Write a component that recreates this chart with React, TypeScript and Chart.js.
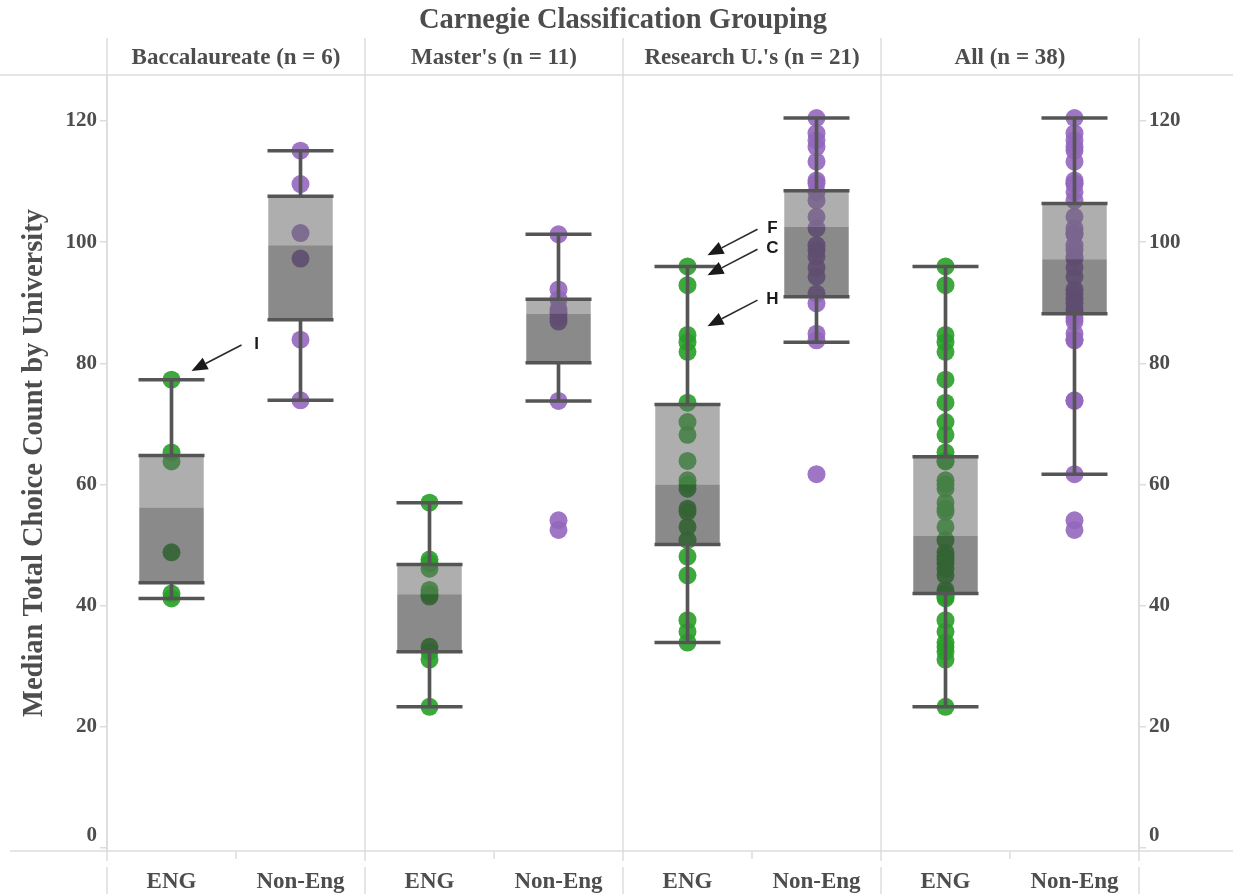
import React, { useEffect, useRef } from 'react';
import { Chart, registerables } from 'chart.js';

Chart.register(...registerables);

// ---------- data ----------
const chartTitle = 'Carnegie Classification Grouping';
const yAxisTitle = 'Median Total Choice Count by University';
const groupLabels = ['Baccalaureate (n = 6)', "Master's (n = 11)", "Research U.'s (n = 21)", 'All (n = 38)'];
const subgroupLabels = ['ENG', 'Non-Eng'];
const yTicks = [0, 20, 40, 60, 80, 100, 120];
const yMin = -0.5;
const yMax = 127.6;

const bacEng = [77.3, 65.3, 63.8, 48.8, 42.0, 41.2];
const bacNon = [115.1, 109.6, 101.5, 97.3, 83.9, 73.9];
const masEng = [57.0, 47.6, 47.0, 46.1, 42.6, 41.9, 41.5, 33.2, 32.4, 31.1, 23.3];
const masNon = [101.3, 92.2, 90.6, 89.0, 88.5, 88.2, 87.5, 86.9, 73.8, 54.1, 52.5];
const resEng = [96.0, 92.9, 84.7, 83.5, 81.9, 73.5, 70.3, 68.2, 63.9, 60.7, 60.0, 59.3, 56.0, 55.5, 53.0, 50.8, 48.1, 45.0, 37.6, 35.7, 33.9];
const resNon = [120.5, 118.0, 116.8, 115.7, 113.3, 110.2, 109.7, 108.3, 106.9, 104.2, 102.3, 99.5, 98.7, 97.6, 95.8, 94.3, 91.5, 89.9, 84.9, 83.8, 61.7];
const allEng = [...bacEng, ...masEng, ...resEng];
const allNon = [...bacNon, ...masNon, ...resNon];

// box statistics per category (Bacc ENG, Bacc Non, Master ENG, Master Non, Research ENG, Research Non, All ENG, All Non)
const whiskerHigh = [77.3, 115.1, 57.0, 101.3, 96.0, 120.5, 96.0, 120.5];
const q3 = [64.8, 107.6, 46.8, 90.6, 73.2, 108.5, 64.6, 106.4];
const median = [56.2, 99.5, 41.9, 88.2, 60.0, 102.5, 51.5, 97.2];
const q1 = [43.8, 87.2, 32.4, 80.1, 50.1, 91.0, 42.0, 88.2];
const whiskerLow = [41.2, 73.9, 23.3, 73.8, 33.9, 83.5, 23.3, 61.7];

const annotationTexts = ['I', 'F', 'C', 'H'];
const annotationGroups = [0, 2, 2, 2];
const annotationValues = [83.2, 102.3, 99.0, 90.6];

// ---------- derived ----------
const categories = groupLabels.flatMap((g) => subgroupLabels.map((s) => `${g}|${s}`));
const pointsByCategory = [bacEng, bacNon, masEng, masNon, resEng, resNon, allEng, allNon];

const TEXT = '#4d4d4d';
const GRID = '#dcdcdc';
const SERIF = '"Liberation Serif", "Times New Roman", serif';
const SANS = '"Liberation Sans", Arial, sans-serif';

Chart.defaults.font.family = SERIF;

const pointsFor = (sub: number) =>
  categories.flatMap((c, i) => (i % 2 === sub ? pointsByCategory[i].map((v) => ({ x: c, y: v })) : []));

const edgePoints = categories.flatMap((c, i) => [
  { x: c, y: whiskerLow[i] },
  { x: c, y: q1[i] },
  { x: c, y: q3[i] },
  { x: c, y: whiskerHigh[i] },
]);

const framePlugin = {
  id: 'frame',
  beforeDatasetsDraw(chart: any) {
    const { ctx, chartArea: a, scales } = chart;
    const x = scales.x;
    ctx.save();
    ctx.strokeStyle = GRID;
    ctx.lineWidth = 1.5;
    const line = (x1: number, y1: number, x2: number, y2: number) => {
      ctx.beginPath();
      ctx.moveTo(x1, y1);
      ctx.lineTo(x2, y2);
      ctx.stroke();
    };
    line(0, a.top, chart.width, a.top);
    line(10, a.bottom, chart.width, a.bottom);
    const n = groupLabels.length;
    for (let k = 0; k <= n; k++) {
      const px = k === 0 ? a.left : k === n ? a.right : (x.getPixelForValue(2 * k - 1) + x.getPixelForValue(2 * k)) / 2;
      line(px, 38, px, a.bottom + 10);
      line(px, a.bottom + 16, px, chart.height);
    }
    for (let k = 0; k < n; k++) {
      const px = (x.getPixelForValue(2 * k) + x.getPixelForValue(2 * k + 1)) / 2;
      line(px, a.bottom, px, a.bottom + 8);
    }
    ctx.restore();
  },
  afterDatasetsDraw(chart: any) {
    const { ctx, scales } = chart;
    ctx.save();
    ctx.fillStyle = '#1a1a1a';
    ctx.strokeStyle = '#2a2a2a';
    ctx.lineWidth = 1.6;
    ctx.font = `bold 17px ${SANS}`;
    ctx.textAlign = 'center';
    ctx.textBaseline = 'middle';
    annotationTexts.forEach((t, i) => {
      const cx = scales.x.getPixelForValue(annotationGroups[i] * 2);
      const ly = scales.y.getPixelForValue(annotationValues[i]);
      const lx = cx + 85;
      ctx.fillText(t, lx, ly);
      const tx = lx - 15;
      const ty = ly + 1;
      const hx = cx + 20;
      const hy = ly + 27;
      const ang = Math.atan2(hy - ty, hx - tx);
      const hl = 16;
      const hw = 6.5;
      const bx = hx - Math.cos(ang) * hl;
      const by = hy - Math.sin(ang) * hl;
      ctx.beginPath();
      ctx.moveTo(tx, ty);
      ctx.lineTo(bx, by);
      ctx.stroke();
      ctx.beginPath();
      ctx.moveTo(hx, hy);
      ctx.lineTo(bx - Math.sin(ang) * hw, by + Math.cos(ang) * hw);
      ctx.lineTo(bx + Math.sin(ang) * hw, by - Math.cos(ang) * hw);
      ctx.closePath();
      ctx.fill();
    });
    ctx.restore();
  },
  afterDraw(chart: any) {
    const { ctx, chartArea: a } = chart;
    ctx.save();
    ctx.fillStyle = TEXT;
    ctx.font = `bold 28.5px ${SERIF}`;
    ctx.textAlign = 'center';
    ctx.textBaseline = 'middle';
    ctx.fillText(chartTitle, (a.left + a.right) / 2, 21);
    ctx.restore();
  },
};

const yTickCallback = (v: any) => (Number(v) === 0 ? ['0', ''] : String(v));

export default function App() {
  const ref = useRef<HTMLCanvasElement>(null);
  useEffect(() => {
    const canvas = ref.current as HTMLCanvasElement;
    const chart = new Chart(canvas, {
      type: 'bar',
      data: {
        labels: categories,
        datasets: [
          {
            type: 'scatter',
            label: 'ENG',
            data: pointsFor(0),
            backgroundColor: 'rgba(40,160,40,0.9)',
            borderWidth: 0,
            pointRadius: 9,
            order: 5,
            xAxisID: 'x',
            yAxisID: 'y',
          } as any,
          {
            type: 'scatter',
            label: 'Non-Eng',
            data: pointsFor(1),
            backgroundColor: 'rgba(148,103,189,0.9)',
            borderWidth: 0,
            pointRadius: 9,
            order: 5,
            xAxisID: 'x',
            yAxisID: 'y',
          } as any,
          {
            type: 'bar',
            label: 'lower box',
            data: categories.map((_, i) => [q1[i], median[i]]),
            backgroundColor: 'rgba(60,60,60,0.6)',
            grouped: false,
            barPercentage: 0.5,
            categoryPercentage: 1,
            order: 3,
            xAxisID: 'x',
            yAxisID: 'y',
          } as any,
          {
            type: 'bar',
            label: 'upper box',
            data: categories.map((_, i) => [median[i], q3[i]]),
            backgroundColor: 'rgba(100,100,100,0.52)',
            grouped: false,
            barPercentage: 0.5,
            categoryPercentage: 1,
            order: 3,
            xAxisID: 'x',
            yAxisID: 'y',
          } as any,
          {
            type: 'bar',
            label: 'lower whisker',
            data: categories.map((_, i) => [whiskerLow[i], q1[i]]),
            backgroundColor: '#555555',
            grouped: false,
            barThickness: 3,
            order: 2,
            xAxisID: 'x',
            yAxisID: 'y',
          } as any,
          {
            type: 'bar',
            label: 'upper whisker',
            data: categories.map((_, i) => [q3[i], whiskerHigh[i]]),
            backgroundColor: '#555555',
            grouped: false,
            barThickness: 3,
            order: 2,
            xAxisID: 'x',
            yAxisID: 'y',
          } as any,
          {
            type: 'scatter',
            label: 'edges',
            data: edgePoints,
            pointStyle: 'line',
            pointRadius: 33,
            pointBorderWidth: 3.5,
            pointBorderColor: '#555555',
            order: 1,
            xAxisID: 'x',
            yAxisID: 'y',
          } as any,
        ],
      },
      options: {
        responsive: false,
        animation: false,
        events: [],
        layout: { padding: { top: 38, left: 0, right: 0, bottom: 0 } },
        plugins: { legend: { display: false }, tooltip: { enabled: false }, title: { display: false } },
        scales: {
          x: {
            type: 'category',
            position: 'bottom',
            offset: true,
            afterFit: (s: any) => {
              s.height = 43;
            },
            grid: { display: false },
            border: { display: false },
            ticks: {
              padding: 9,
              autoSkip: false,
              maxRotation: 0,
              color: TEXT,
              font: { size: 23, weight: 'bold' },
              callback: (_v: any, i: number) => categories[i].split('|')[1],
            },
          },
          x2: {
            type: 'category',
            position: 'top',
            labels: groupLabels,
            offset: true,
            afterFit: (s: any) => {
              s.height = 37;
            },
            grid: { display: false },
            border: { display: false },
            ticks: { padding: -5, autoSkip: false, maxRotation: 0, color: TEXT, font: { size: 23, weight: 'bold' } },
          },
          y: {
            type: 'linear',
            position: 'left',
            min: yMin,
            max: yMax,
            afterBuildTicks: (s: any) => {
              s.ticks = yTicks.map((v) => ({ value: v }));
            },
            afterFit: (s: any) => {
              s.width = 107;
            },
            grid: { drawOnChartArea: false, drawTicks: true, tickLength: 7, color: GRID, lineWidth: 1.5 },
            border: { display: true, color: GRID, width: 1.5 },
            ticks: { padding: 3, color: TEXT, font: { size: 21, weight: 'bold' }, callback: yTickCallback },
            title: {
              display: true,
              text: yAxisTitle,
              color: TEXT,
              font: { size: 28.5, weight: 'bold' },
              padding: { top: 18, bottom: 0 },
            },
          },
          y2: {
            type: 'linear',
            position: 'right',
            min: yMin,
            max: yMax,
            afterBuildTicks: (s: any) => {
              s.ticks = yTicks.map((v) => ({ value: v }));
            },
            afterFit: (s: any) => {
              s.width = 94;
            },
            grid: { drawOnChartArea: false, drawTicks: true, tickLength: 7, color: GRID, lineWidth: 1.5 },
            border: { display: true, color: GRID, width: 1.5 },
            ticks: { padding: 3, color: TEXT, font: { size: 21, weight: 'bold' }, callback: yTickCallback },
          },
        },
      } as any,
      plugins: [framePlugin],
    });
    return () => chart.destroy();
  }, []);
  return (
    <div style={{ position: 'fixed', left: 0, top: 0, width: 1233, height: 894, background: '#ffffff' }}>
      <canvas ref={ref} width={1233} height={894} style={{ display: 'block' }} />
    </div>
  );
}
